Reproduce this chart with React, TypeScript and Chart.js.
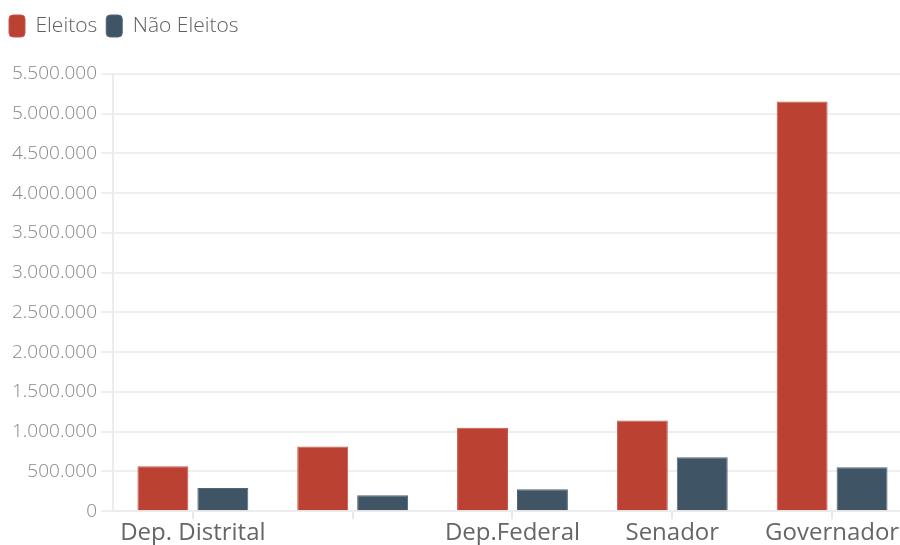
import React, { useEffect, useRef } from "react";
import { Chart, registerables } from "chart.js";

Chart.register(...registerables);

const categories = ["Dep. Distrital", "", "Dep.Federal", "Senador", "Governador"];
const eleitos = [565000, 815000, 1050000, 1142000, 5155000];
const naoEleitos = [293000, 201000, 277000, 680000, 554000];
const seriesNames = ["Eleitos", "Não Eleitos"];
const yMax = 5500000;
const yStep = 500000;

const fmt = (v: number) => Math.round(v).toString().replace(/\B(?=(\d{3})+(?!\d))/g, ".");

const legendSpacer = {
  id: "legendSpacer",
  beforeInit(chart: any) {
    const legend = chart.legend;
    if (!legend) return;
    const origFit = legend.fit;
    legend.fit = function () {
      origFit.call(this);
      this.height += 21;
    };
  },
  afterLayout(chart: any) {
    const legend = chart.legend;
    if (!legend) return;
    legend.left -= 8;
    legend.right -= 8;
    legend.top -= 6;
    legend.bottom -= 6;
  },
};

export default function App() {
  const ref = useRef<HTMLCanvasElement>(null);
  useEffect(() => {
    if (!ref.current) return;
    const chart = new Chart(ref.current, {
      type: "bar",
      data: {
        labels: categories,
        datasets: [
          {
            label: seriesNames[0],
            data: eleitos,
            backgroundColor: "#bb4233",
            borderColor: "#c4574a",
            borderWidth: 1,
            categoryPercentage: 0.75,
            barPercentage: 0.85,
          },
          {
            label: seriesNames[1],
            data: naoEleitos,
            backgroundColor: "#3f5464",
            borderColor: "#52667a",
            borderWidth: 1,
            categoryPercentage: 0.75,
            barPercentage: 0.85,
          },
        ],
      },
      plugins: [legendSpacer],
      options: {
        animation: false,
        responsive: true,
        maintainAspectRatio: false,
        layout: { padding: { top: 4, left: 0, right: 0, bottom: 0 } },
        plugins: {
          tooltip: { enabled: false },
          legend: {
            position: "top",
            align: "start",
            labels: {
              font: { family: "'Open Sans'", size: 21, weight: "300" },
              color: "#606060",
              boxWidth: 16,
              boxHeight: 22,
              padding: 9,
              useBorderRadius: true,
              borderRadius: 4,
            },
          },
        },
        scales: {
          x: {
            offset: true,
            grid: {
              display: true,
              drawOnChartArea: false,
              drawTicks: true,
              tickLength: 8,
              color: "#e8e8e8",
              lineWidth: 2,
              offset: false,
            },
            border: { display: true, color: "#ececec", width: 2 },
            ticks: {
              font: { family: "'Open Sans'", size: 24 },
              color: "#666",
              autoSkip: false,
              maxRotation: 0,
              padding: 0,
            },
          },
          y: {
            min: 0,
            max: yMax,
            grid: {
              color: "#efefef",
              lineWidth: 2,
              tickLength: 12,
            },
            border: { display: true, color: "#ececec", width: 2 },
            ticks: {
              stepSize: yStep,
              font: { family: "'Open Sans'", size: 19, weight: "300" },
              color: "#888",
              padding: 4,
              callback: (v: any) => fmt(Number(v)),
            },
          },
        },
      },
    });
    return () => chart.destroy();
  }, []);
  return (
    <div style={{ position: "fixed", left: 0, top: 0, width: 900, height: 545, overflow: "hidden", background: "#fff" }}>
      <div style={{ position: "absolute", left: 8, top: 8, width: 904, height: 540 }}>
        <canvas ref={ref} />
      </div>
    </div>
  );
}
